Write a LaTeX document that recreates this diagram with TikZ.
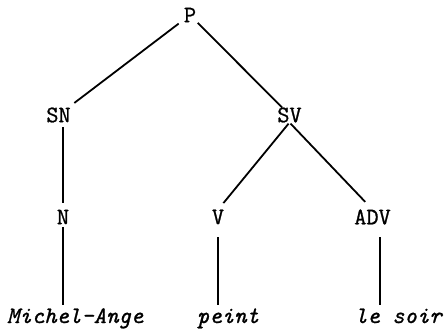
\documentclass[tikz,border=0pt]{standalone}
\usepackage{fontspec}
\newfontfamily\treefont[FakeBold=1.0]{Latin Modern Mono}
\begin{document}
\begin{tikzpicture}[x=1bp,y=-1bp,
  lab/.style={inner sep=0pt,outer sep=0pt,font=\fontsize{23.7}{28}\selectfont\treefont},
  word/.style={inner xsep=0pt,inner ysep=3.5bp,outer sep=0pt,anchor=base west,
    text height=14.5bp,text depth=4.5bp,font=\fontsize{23.7}{28}\selectfont\treefont\itshape},
  edge/.style={line width=1.8bp}]
\useasboundingbox (0,0) rectangle (445,334);
\node[lab] (P) at (190,15) {P};
\node[lab] (SN) at (58.5,115) {SN};
\node[lab] (SV) at (289.5,115) {SV};
\node[lab] (N) at (63,217) {N};
\node[lab] (V) at (218,217) {V};
\node[lab] (ADV) at (372.5,217) {ADV};
\node[word] (w1) at (7,323) {Michel-Ange};
\node[word] (w2) at (197,323) {peint};
\node[word] (w3) at (355,323) {le soir};
\draw[edge,shorten <=6.6bp,shorten >=7.5bp] (P) -- (SN);
\draw[edge,shorten <=2.5bp] (P) -- (SV);
\draw[edge,shorten <=4.7bp,shorten >=6.7bp] (SN.south -| N.north) -- (N.north);
\draw[edge,shorten <=1.5bp,shorten >=8.5bp] (SV.south) -- (V.north);
\draw[edge,shorten <=1.5bp,shorten >=10.6bp] (SV.south) -- (ADV.north);
\draw[edge,shorten <=3bp] (N.south) -- (N.south |- w1.north);
\draw[edge,shorten <=12.7bp] (V.south) -- (V.south |- w2.north);
\draw[edge,shorten <=12.7bp] ([xshift=7.5bp]ADV.south) -- ([xshift=7.5bp]ADV.south |- w3.north);
\end{tikzpicture}
\end{document}
